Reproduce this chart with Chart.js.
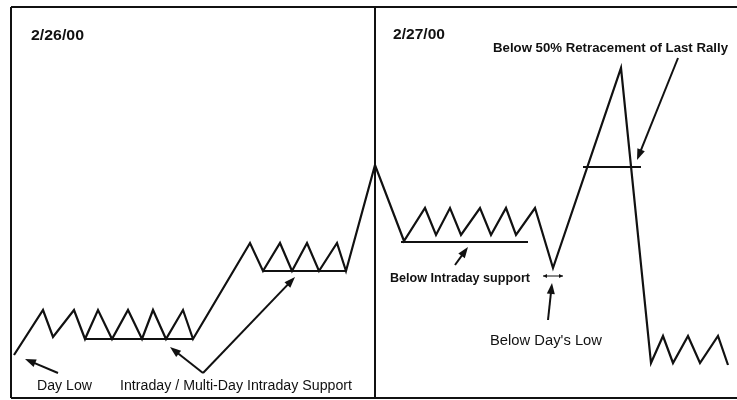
<!DOCTYPE html>
<html><head><meta charset="utf-8">
<script src="https://cdn.jsdelivr.net/npm/chart.js@4/dist/chart.umd.min.js"></script>
<style>html,body{margin:0;padding:0;background:#fff;overflow:hidden}#wrap{width:737px;height:400px}</style>
</head><body><div id="wrap"><canvas id="c" width="737" height="400"></canvas></div>
<script>
// Schematic price path over two sessions (time units, price units)
const priceTime  = [14,43,53,74,85,98,112,128,142,153,166,183,193,250,263,280,292,307,319,337,346,375,404,425,436,450,461,480,491,506,516,535,553,621,651,663,673,688,700,718,728];
const priceLevel = [45,90,63,90,61,90,61,90,61,90,61,90,61,157,129,157,129,157,129,157,129,235,159,192,165,192,165,192,165,192,165,192,132,332,37,64,37,64,37,64,35];

// Support / reference levels: [startTime, endTime, level]
const supportLevels = [
  [85, 193, 61],     // intraday support day 1
  [263, 346, 129],   // multi-day intraday support
  [401, 528, 158],   // intraday support day 2
  [583, 641, 233]    // 50% retracement of last rally
];
const dayLowMarker = [543, 563, 124];

// Session frame
const sessionStart = 11, sessionSplit = 375, sessionEnd = 737;
const frameLow = 2, frameHigh = 393;

// Session labels and annotations: [text, time, level, width, bold, size]
const labels = [
  ["2/26/00", 31, 360, 53, true, 15],
  ["2/27/00", 393, 361, 52, true, 15],
  ["Below 50% Retracement of Last Rally", 493, 348, 235, true, 13],
  ["Below Intraday support", 390, 118, 140, true, 13],
  ["Below Day's Low", 490, 55, 112, false, 14],
  ["Day Low", 37, 10, 55, false, 14],
  ["Intraday / Multi-Day Intraday Support", 120, 10, 232, false, 14]
];
// Arrows: [tailTime, tailLevel, headTime, headLevel]
const arrows = [
  [58, 27, 25, 41],
  [203, 27, 170, 53],
  [203, 27, 295, 123],
  [455, 135, 468, 153],
  [548, 80, 552, 117],
  [678, 342, 637, 240]
];

const ink = '#111';
function seg(a, b, y, w) {
  return { data: [{x:a,y:y},{x:b,y:y}], showLine:true, borderColor:ink, borderWidth:w||2, pointRadius:0, fill:false };
}
function vseg(x, a, b, w) {
  return { data: [{x:x,y:a},{x:x,y:b}], showLine:true, borderColor:ink, borderWidth:w||2, pointRadius:0, fill:false };
}

const datasets = [
  { data: priceTime.map((t,i)=>({x:t,y:priceLevel[i]})), showLine:true, borderColor:ink, borderWidth:2.2, pointRadius:0, tension:0, fill:false, borderJoinStyle:'miter' },
  ...supportLevels.map(s => seg(s[0], s[1], s[2], 2)),
  seg(dayLowMarker[0], dayLowMarker[1], dayLowMarker[2], 1),
  vseg(sessionStart, frameLow, frameHigh, 2),
  vseg(sessionSplit, frameLow, frameHigh, 2),
  seg(sessionStart, sessionEnd, frameHigh, 2),
  seg(sessionStart, sessionEnd, frameLow, 2)
];

function head(ctx, x1, y1, x2, y2, len, half) {
  const a = Math.atan2(y2 - y1, x2 - x1);
  ctx.beginPath();
  ctx.moveTo(x2, y2);
  ctx.lineTo(x2 - len*Math.cos(a) + half*Math.sin(a), y2 - len*Math.sin(a) - half*Math.cos(a));
  ctx.lineTo(x2 - len*Math.cos(a) - half*Math.sin(a), y2 - len*Math.sin(a) + half*Math.cos(a));
  ctx.closePath();
  ctx.fill();
}

const annot = {
  id: 'annot',
  afterDatasetsDraw(chart) {
    const ctx = chart.ctx, xs = chart.scales.x, ys = chart.scales.y;
    ctx.save();
    ctx.strokeStyle = ink; ctx.fillStyle = ink; ctx.lineWidth = 2;
    arrows.forEach(a => {
      const x1 = xs.getPixelForValue(a[0]), y1 = ys.getPixelForValue(a[1]);
      const x2 = xs.getPixelForValue(a[2]), y2 = ys.getPixelForValue(a[3]);
      const ang = Math.atan2(y2-y1, x2-x1);
      ctx.beginPath(); ctx.moveTo(x1, y1); ctx.lineTo(x2 - 6*Math.cos(ang), y2 - 6*Math.sin(ang)); ctx.stroke();
      head(ctx, x1, y1, x2, y2, 11, 4);
    });
    // day's low double-headed marker
    const mx1 = xs.getPixelForValue(dayLowMarker[0]), mx2 = xs.getPixelForValue(dayLowMarker[1]), my = ys.getPixelForValue(dayLowMarker[2]);
    head(ctx, mx2, my, mx1, my, 4, 2);
    head(ctx, mx1, my, mx2, my, 4, 2);
    // labels
    labels.forEach(l => {
      ctx.font = (l[4] ? 'bold ' : '') + l[5] + 'px "Liberation Sans", "DejaVu Sans", sans-serif';
      const w = ctx.measureText(l[0]).width;
      const x = xs.getPixelForValue(l[1]), y = ys.getPixelForValue(l[2]);
      ctx.save();
      ctx.translate(x, y);
      ctx.scale(l[3] / w, 1);
      ctx.textBaseline = 'alphabetic';
      ctx.fillText(l[0], 0, 0);
      ctx.restore();
    });
    ctx.restore();
  }
};

new Chart(document.getElementById('c'), {
  type: 'scatter',
  data: { datasets },
  options: {
    responsive: false,
    animation: false,
    layout: { padding: 0 },
    plugins: { legend: { display: false }, tooltip: { enabled: false } },
    scales: {
      x: { type: 'linear', min: 0, max: 737, display: false },
      y: { type: 'linear', min: 0, max: 400, display: false }
    }
  },
  plugins: [annot]
});
</script>
</body></html>
